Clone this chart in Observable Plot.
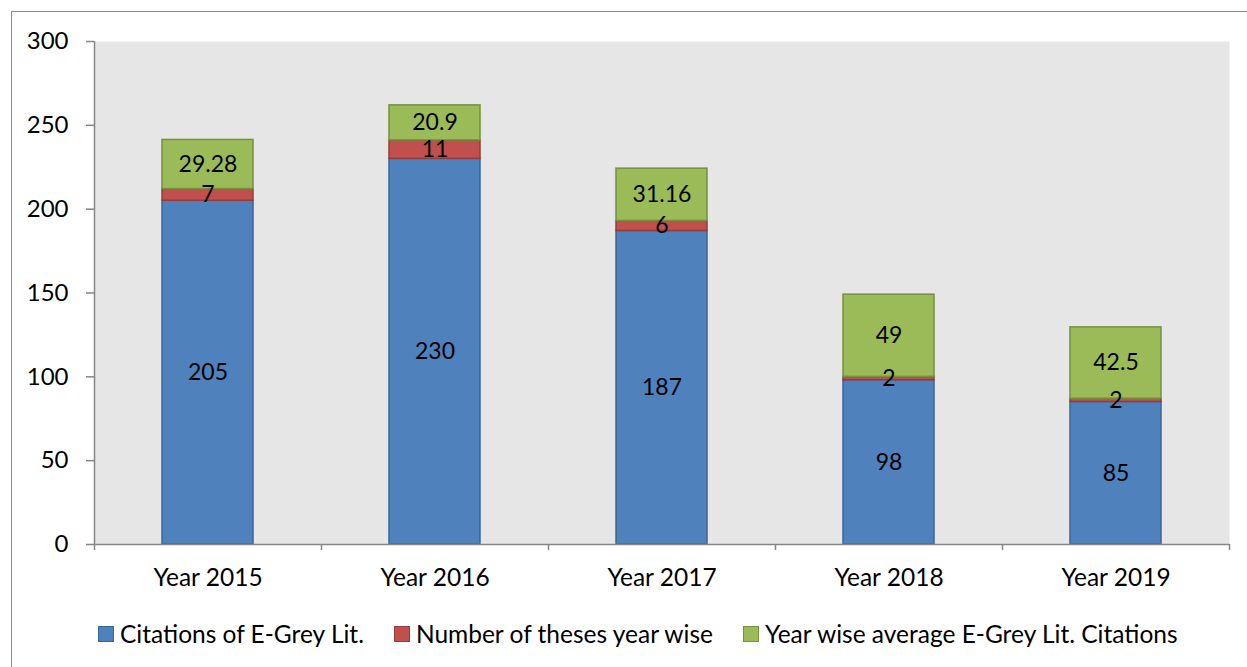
<!DOCTYPE html>
<html>
<head>
<meta charset="utf-8">
<script src="https://cdn.jsdelivr.net/npm/d3@7"></script>
<script src="https://cdn.jsdelivr.net/npm/@observablehq/plot@0.6"></script>
<style>
  html, body { margin: 0; padding: 0; background: #fff; width: 1247px; height: 667px; overflow: hidden; }
  #frame { position: absolute; left: 11px; top: 11px; width: 1300px; height: 720px; border: 1px solid #8a8a8a; box-sizing: border-box; }
  #chart { position: absolute; left: 0; top: 0; }
  #legend { position: absolute; left: 98px; top: 619px; display: flex; align-items: center; font-family: Lato, sans-serif; font-size: 24.5px; color: #000; }
  .item { display: flex; align-items: center; margin-right: 30px; }
  .sw { width: 14px; height: 14px; margin-right: 6px; border: 1px solid; }
</style>
</head>
<body>
<div id="frame"></div>
<div id="chart"></div>
<div id="legend"></div>
<script>
const years = ["Year 2015", "Year 2016", "Year 2017", "Year 2018", "Year 2019"];
const citations = [205, 230, 187, 98, 85];
const theses = [7, 11, 6, 2, 2];
const avgCitations = [29.28, 20.9, 31.16, 49, 42.5];
const seriesNames = ["Citations of E-Grey Lit.", "Number of theses year wise", "Year wise average E-Grey Lit. Citations"];
const seriesValues = [citations, theses, avgCitations];
const fills = ["#4f81bd", "#c0504d", "#9bbb59"];
const strokes = ["#3b6595", "#943c3a", "#76913f"];
const yTicks = [0, 50, 100, 150, 200, 250, 300];

// build stacked rows
const rows = [];
years.forEach((yr, i) => {
  let base = 0;
  seriesValues.forEach((vals, s) => {
    const v = vals[i];
    rows.push({year: yr, series: s, value: v, y1: base, y2: base + v, label: String(v)});
    base += v;
  });
});

const W = 1247, H = 610, mL = 94, mR = 18, mT = 41, mB = 66;
const band = (W - mL - mR) / years.length;
const font = "Lato, sans-serif";
const axisGray = "#868686";

const marks = [
  Plot.frame({fill: "#e6e6e6", stroke: null}),
  ...seriesNames.map((name, s) => Plot.barY(rows.filter(d => d.series === s), {
    x: "year", y1: "y1", y2: "y2", fill: fills[s], stroke: strokes[s], strokeWidth: 1.5, inset: 0
  })),
  Plot.text(rows, {x: "year", y: d => (d.y1 + d.y2) / 2, text: "label", fill: "#000", fontSize: 23, fontFamily: font}),
  // axes lines
  Plot.ruleY([0], {stroke: axisGray, strokeWidth: 1.5}),
  Plot.ruleX([years[0]], {y1: 0, y2: 300, stroke: axisGray, strokeWidth: 1.5, dx: -band / 2}),
  // category boundary ticks
  Plot.ruleX(years, {y1: 0, y2: -3.6, stroke: axisGray, strokeWidth: 1.5, dx: -band / 2}),
  Plot.ruleX([years[years.length - 1]], {y1: 0, y2: -3.6, stroke: axisGray, strokeWidth: 1.5, dx: band / 2}),
  Plot.axisY({ticks: yTicks, tickSize: 8, tickPadding: 18, stroke: axisGray, strokeWidth: 1.5, fontSize: 24, fontFamily: font, label: null, color: "#000"}),
  Plot.axisX({tickSize: 0, tickPadding: 24, fontSize: 24.5, fontFamily: font, label: null})
];

const chart = Plot.plot({
  width: W, height: H,
  marginLeft: mL, marginRight: mR, marginTop: mT, marginBottom: mB,
  style: {fontFamily: font, fontSize: "23px", color: "#000", background: "transparent", overflow: "visible"},
  x: {type: "band", domain: years, paddingInner: 0.6, paddingOuter: 0.3, label: null},
  y: {domain: [0, 300], label: null},
  marks
});
document.getElementById("chart").appendChild(chart);

const legend = document.getElementById("legend");
seriesNames.forEach((name, s) => {
  const item = document.createElement("div");
  item.className = "item";
  const sw = document.createElement("span");
  sw.className = "sw";
  sw.style.background = fills[s];
  sw.style.borderColor = strokes[s];
  const t = document.createElement("span");
  t.textContent = name;
  item.appendChild(sw); item.appendChild(t);
  legend.appendChild(item);
});
</script>
</body>
</html>
